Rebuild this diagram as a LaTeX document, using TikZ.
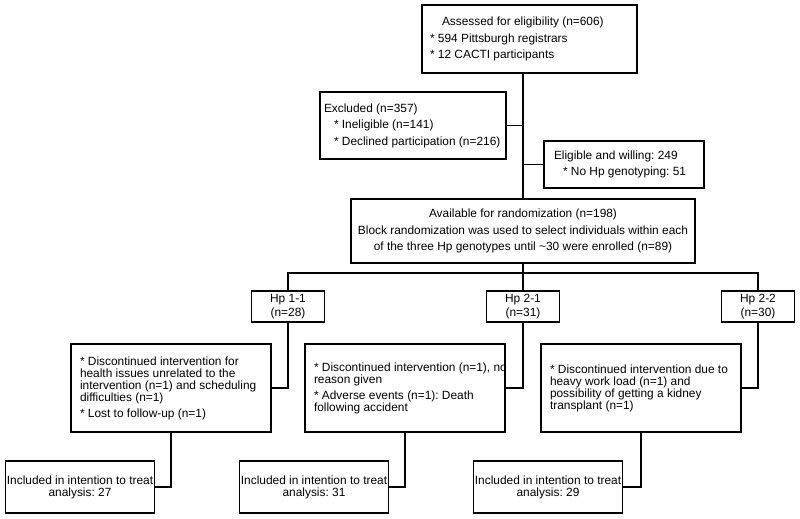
\documentclass[tikz,border=0pt]{standalone}
\usepackage{fontspec}
\setmainfont{Liberation Sans}
\frenchspacing
\begin{document}
\begin{tikzpicture}[x=1pt,y=-1pt,line width=1.9pt,
  box/.style={draw,inner ysep=0pt,font=\fontsize{11.9}{16.5}\selectfont},
  note/.style={box,align=flush left,inner xsep=9pt,text width=182pt,minimum height=88pt,font=\fontsize{11.9}{12}\selectfont},
  itt/.style={box,align=flush center,inner xsep=0pt,text width=149pt,minimum height=52pt,font=\fontsize{11.9}{12}\selectfont},
  hp/.style={box,align=flush center,minimum width=73pt,minimum height=31pt,font=\fontsize{11.9}{13.5}\selectfont}]
\useasboundingbox (0,0) rectangle (800,519);
\node[box,align=flush left,inner xsep=8pt,text width=199pt,minimum height=68pt] (top) at (529.5,39)
  {\hspace*{12pt}Assessed for eligibility (n=606)\\{*} 594 Pittsburgh registrars\\{*} 12 CACTI participants};
\node[box,align=flush left,inner xsep=4pt,text width=178pt,minimum height=67pt] (excl) at (413,125.5)
  {Excluded (n=357)\\\hspace*{10pt}* Ineligible (n=141)\\\hspace*{10pt}* Declined participation (n=216)};
\node[box,align=flush left,inner xsep=10pt,text width=140pt,minimum height=47pt] (elig) at (624,164.5)
  {Eligible and willing: 249\\\hspace*{9pt}* No Hp genotyping: 51};
\node[box,align=flush center,text width=336pt,minimum width=344pt,minimum height=64pt] (rand) at (523,231)
  {Available for randomization (n=198)\\Block randomization was used to select individuals within each\\of the three Hp genotypes until \textasciitilde30 were enrolled (n=89)};
\coordinate (bus) at (523,273);
\draw (rand.north |- top.south) -- (rand.north);
\draw (excl.east) -- (excl.east -| rand.north);
\draw (elig.west) -- (elig.west -| rand.north);
\draw (rand.south) -- (bus);
\foreach \i/\x/\g/\n in {1/288/1-1/28,2/523/2-1/31,3/758/2-2/30}
  \node[hp] (hp\i) at (\x,306.5) {Hp \g\\(n=\n)};
\draw (hp1.north) |- (bus) -| (hp3.north);
\draw (bus) -- (hp2.north);
\node[note] (d1) at (171,388)
  {* Discontinued intervention for\\health issues unrelated to the\\intervention (n=1) and scheduling\\difficulties (n=1)\\[4pt]* Lost to follow-up (n=1)};
\node[note] (d2) at (405,388)
  {\mbox{* Discontinued intervention (n=1), no}\\reason given\\[4pt]* Adverse events (n=1): Death\\following accident};
\node[note] (d3) at (641,388)
  {* Discontinued intervention due to\\heavy work load (n=1) and\\possibility of getting a kidney\\transplant (n=1)};
\foreach \i/\x/\n in {1/80/27,2/314/31,3/548/29} {
  \node[itt] (itt\i) at (\x,487) {Included in intention to treat\\analysis: \n};
  \draw (hp\i.south) |- (d\i.east);
  \draw (d\i.south) |- (itt\i.east);
}
\end{tikzpicture}
\end{document}
